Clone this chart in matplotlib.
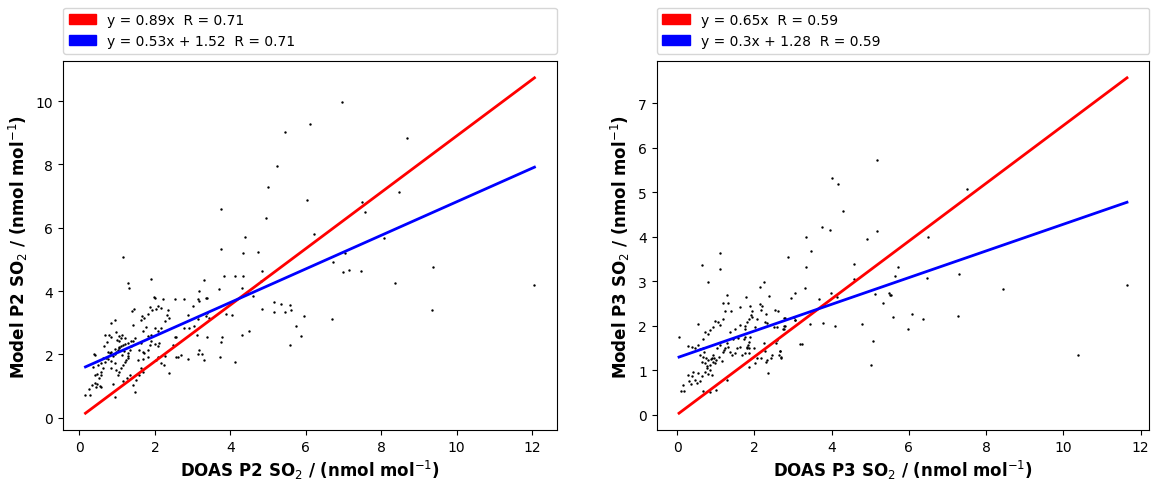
import matplotlib
matplotlib.use("Agg")
import matplotlib.pyplot as plt
import matplotlib.patches as mpatches
import numpy as np

# P2: DOAS vs model SO2 (nmol/mol)
p2_doas = [
    0.16, 0.27, 0.26, 0.33, 0.40, 0.47, 0.44, 0.54, 0.58, 0.40, 0.47, 0.58, 0.52, 0.38, 0.40, 0.36,
    0.49, 0.58, 0.63, 0.67, 0.71, 0.65, 0.69, 0.79, 0.83, 0.93, 0.84,
    0.76, 0.80, 0.84, 0.89, 0.93, 0.98, 1.02, 1.06, 1.11, 1.15, 1.04, 1.09, 1.00, 1.13, 1.20, 1.06,
    0.76, 0.84, 0.93, 0.84, 0.98, 1.06, 1.02, 1.11, 1.15, 1.20, 1.24, 1.28, 1.28, 1.33, 1.37, 1.37,
    0.89, 1.15, 0.93, 1.25, 1.33, 1.46, 1.42, 1.50, 1.59, 1.68, 1.64,
    1.28, 1.42, 1.48, 1.64, 1.59, 1.68, 1.72, 1.81, 1.86, 1.90, 1.99, 2.08, 2.12, 2.08,
    1.42, 1.44, 1.40, 1.65, 1.72, 1.64, 1.83, 1.92, 1.97, 2.01, 1.88, 2.03, 2.08, 2.15, 2.21, 2.34,
    2.32, 2.38, 2.27, 2.16, 2.08, 1.99, 1.90, 1.81, 1.77, 1.68,
    1.55, 1.68, 1.81, 2.03, 2.16, 2.25, 2.38, 2.27,
    2.52, 2.76, 2.88, 2.78, 2.56, 2.60, 2.69, 2.91, 3.00, 3.13, 3.17, 3.29, 3.36, 3.39, 3.44,
    1.28, 1.32, 1.89, 1.16, 3.71, 3.18, 3.84, 4.11, 4.33, 4.31, 4.61, 4.83, 3.74, 4.34, 4.74, 4.39,
    4.83, 5.15, 5.33, 5.58, 5.62, 5.15, 5.44, 5.74, 5.87, 5.58, 5.94, 4.32, 4.50, 3.89, 4.05, 3.78,
    3.76, 4.12, 3.73, 3.36, 3.39, 3.15, 3.11, 3.04, 3.17, 3.26, 3.14, 3.29, 2.87, 2.57, 2.54, 2.47,
    6.95, 6.10, 5.46, 8.69, 5.23, 5.00, 6.03, 3.75, 7.49, 7.57, 8.48, 4.94, 6.23, 8.08, 7.04, 6.73,
    6.99, 7.14, 7.46, 9.36, 8.36, 9.34, 12.06, 3.37, 4.81, 6.70,
    0.95, 1.05, 1.12, 1.18, 0.72, 0.62, 1.22, 1.30, 0.56, 0.98,
]
p2_model = [
    0.71, 0.71, 0.90, 1.03, 1.11, 1.05, 0.97, 1.01, 0.98, 1.35, 1.39, 1.35, 1.26, 2.01, 1.99, 1.61,
    1.67, 1.72, 1.56, 1.77, 1.90, 2.26, 2.62, 2.62, 2.56, 3.10, 2.99,
    2.09, 2.03, 2.07, 1.96, 2.01, 2.09, 2.14, 2.20, 2.25, 2.30, 2.41, 2.52, 2.46, 2.60, 2.52, 2.57,
    1.86, 1.79, 1.72, 1.56, 1.51, 1.43, 1.35, 1.56, 1.67, 1.77, 1.83, 1.90, 2.04, 2.14, 2.28, 2.41,
    1.08, 1.16, 0.66, 1.26, 1.35, 0.82, 1.03, 1.19, 1.35, 1.43, 1.56,
    2.36, 2.43, 2.52, 2.36, 2.14, 2.09, 2.04, 2.14, 2.30, 2.43, 2.32, 2.25, 2.36, 1.93,
    2.94, 3.42, 3.37, 3.21, 3.15, 3.07, 3.26, 3.39, 3.81, 3.77, 3.49, 3.42, 3.52, 3.47, 3.74, 3.39,
    3.24, 3.15, 3.05, 2.83, 2.73, 2.83, 2.62, 2.57, 2.86, 2.75,
    1.83, 1.86, 1.93, 1.83, 1.72, 1.67, 1.40, 1.96,
    3.74, 3.74, 3.24, 2.83, 2.56, 1.93, 1.99, 2.83, 3.52, 3.74, 3.68, 4.35, 3.79, 3.31, 3.15,
    4.24, 4.10, 4.39, 5.08, 4.06, 3.99, 4.46, 4.48, 4.48, 4.10, 3.83, 3.44, 5.32, 5.19, 5.22, 5.70,
    4.63, 3.66, 3.60, 3.55, 3.41, 3.34, 3.34, 2.89, 2.57, 2.30, 3.21, 2.60, 2.73, 3.28, 3.24, 2.54,
    2.38, 1.77, 1.92, 3.20, 2.55, 3.13, 2.62, 2.89, 2.15, 2.01, 2.02, 1.82, 1.86, 1.92, 2.54, 2.31,
    9.98, 9.26, 9.01, 8.82, 7.94, 7.27, 6.89, 6.59, 6.82, 6.49, 7.13, 6.32, 5.81, 5.69, 5.20, 4.93,
    4.59, 4.66, 4.62, 4.75, 4.25, 3.41, 4.18, 3.77, 4.31, 3.12,
    2.18, 2.24, 1.98, 2.12, 2.40, 1.88, 2.33, 1.95, 1.45, 2.72,
]

# P3: DOAS vs model SO2 (nmol/mol)
p3_doas = [
    5.18, 4.00, 4.16, 7.52, 4.30, 3.76, 3.96, 5.17, 3.33, 4.93, 6.50, 3.47, 2.87, 4.57, 3.34, 5.73,
    5.63, 4.59, 6.47, 7.31, 8.44, 11.65, 3.30, 3.05, 2.94, 3.99, 4.15, 3.68, 5.13, 5.48, 5.52, 5.55,
    5.32, 2.79, 2.78, 2.75, 3.03, 3.06, 3.44, 3.79, 4.08, 4.79, 5.60, 6.08, 6.37, 7.28, 5.98, 3.18,
    3.23, 5.07, 5.02, 10.39, 2.67, 2.69,
    1.10, 0.64, 1.10, 0.81, 1.30, 1.20, 1.33, 1.24, 1.39, 1.63, 1.18, 1.07, 1.10, 0.98, 0.94, 0.85,
    0.81, 0.73, 0.68, 0.53, 0.05, 0.27, 0.38, 0.47, 0.55, 0.60, 0.67,
    0.60, 0.68, 0.75, 0.81, 0.64, 0.73, 0.77, 0.85, 0.90, 0.94, 0.98,
    1.03, 1.11, 1.18, 1.24, 1.33, 1.37, 1.42, 1.50, 1.56, 1.63, 1.68, 1.76, 1.82, 1.85, 1.72, 1.59,
    1.46, 1.37, 1.50, 1.63, 1.76, 1.82, 1.87,
    0.27, 0.38, 0.32, 0.35, 0.47, 0.51, 0.60, 0.64, 0.55, 0.42, 0.73, 0.81, 0.90, 0.85,
    0.10, 0.18, 0.15, 0.68, 0.84, 1.01, 1.29,
    2.15, 2.26, 2.39, 1.78, 1.89, 1.94, 1.92, 1.95, 2.15, 2.21, 2.18, 2.30, 2.06, 2.54, 2.61, 2.32,
    2.28, 2.78, 3.04, 3.06, 2.80, 2.76, 2.58, 2.50, 2.02, 1.76, 1.76, 1.88, 2.00, 1.83, 1.81, 1.87,
    2.58, 2.25, 2.06, 1.85, 1.85, 2.02, 2.18, 2.30, 2.28, 2.32, 2.44, 2.45, 2.67, 2.64, 2.69, 2.56,
    2.35,
    0.88, 0.95, 1.02, 1.08, 1.15, 0.70, 0.78, 1.22, 1.28, 0.92,
]
p3_model = [
    5.73, 5.32, 5.18, 5.08, 4.58, 4.21, 4.16, 4.13, 3.99, 3.95, 3.99, 3.67, 3.55, 3.38, 3.33, 3.32,
    3.11, 3.04, 3.08, 3.17, 2.82, 2.92, 2.84, 2.73, 2.63, 2.74, 2.64, 2.60, 2.72, 2.73, 2.70, 2.70,
    2.52, 2.17, 1.99, 1.92, 2.19, 2.12, 2.03, 2.06, 2.00, 2.04, 2.20, 2.27, 2.16, 2.21, 1.93, 1.58,
    1.58, 1.65, 1.12, 1.34, 1.43, 1.30,
    3.64, 3.37, 3.28, 2.98, 2.69, 2.51, 2.50, 2.34, 2.32, 2.41, 2.16, 2.08, 2.02, 2.10, 1.97, 1.90,
    1.82, 1.86, 1.71, 2.04, 1.74, 1.55, 1.53, 1.49, 1.56, 1.47, 1.50,
    1.34, 1.30, 1.27, 1.23, 1.19, 1.16, 1.04, 1.12, 1.27, 1.34, 1.16,
    1.49, 1.56, 1.41, 1.49, 1.53, 1.41, 1.34, 1.38, 1.49, 1.53, 1.34, 1.38, 1.49, 1.64, 1.71, 1.73,
    1.71, 1.86, 1.93, 2.01, 1.99, 2.08, 2.16,
    0.90, 0.86, 0.75, 0.69, 0.78, 0.71, 0.75, 0.86, 0.93, 0.96, 0.96, 0.91, 0.90, 1.01,
    0.53, 0.53, 0.67, 0.53, 0.51, 0.56, 0.78,
    2.88, 2.98, 2.66, 2.65, 2.44, 2.32, 2.23, 2.19, 2.49, 2.44, 2.36, 2.27, 2.16, 2.36, 2.32, 2.07,
    2.08, 2.17, 2.19, 2.12, 1.99, 1.93, 1.96, 1.96, 1.96, 1.93, 1.75, 1.75, 1.49, 1.56, 1.53, 1.50,
    1.67, 1.60, 1.27, 1.38, 1.08, 1.16, 1.28, 1.19, 1.42, 1.23, 1.27, 1.33, 1.42, 1.33, 1.28, 1.62,
    0.93,
    1.25, 1.28, 1.22, 1.30, 1.20, 1.40, 1.10, 1.45, 1.62, 1.18,
]

# fitted lines: (slope, intercept, R) for forced-through-zero and free fits
fits = {
    "P2": [(0.89, 0.0, 0.71), (0.53, 1.52, 0.71)],
    "P3": [(0.65, 0.0, 0.59), (0.3, 1.28, 0.59)],
}
colors = ["red", "blue"]


def label_for(a, b, r):
    if b == 0:
        return f"y = {a:g}x  R = {r:.2f}"
    return f"y = {a:g}x + {b:.2f}  R = {r:.2f}"


fig = plt.figure(figsize=(11.54, 4.81), dpi=100)
ax1 = fig.add_axes([0.0546, 0.104, 0.428, 0.767])
ax2 = fig.add_axes([0.569, 0.104, 0.427, 0.767])

for ax, name, xs, ys in [(ax1, "P2", p2_doas, p2_model), (ax2, "P3", p3_doas, p3_model)]:
    xs = np.array(xs)
    ys = np.array(ys)
    ax.scatter(xs, ys, s=3, c="black", marker="o", linewidths=0)
    xl = np.array([xs.min(), xs.max()])
    handles = []
    for (a, b, r), col in zip(fits[name], colors):
        ax.plot(xl, a * xl + b, color=col, lw=2)
        handles.append(mpatches.Patch(color=col, label=label_for(a, b, r)))
    ax.legend(handles=handles, loc="lower left", bbox_to_anchor=(0, 1.02, 1, 0.102),
              mode="expand", borderaxespad=0, fontsize=10)
    ax.tick_params(labelsize=10)
    ax.set_xlabel(f"DOAS {name} SO$_2$ / (nmol mol$^{{-1}}$)", fontsize=12, fontweight="bold",
                  labelpad=3)
    ax.set_ylabel(f"Model {name} SO$_2$ / (nmol mol$^{{-1}}$)", fontsize=12, fontweight="bold")

fig.savefig("out.png", dpi=100)
